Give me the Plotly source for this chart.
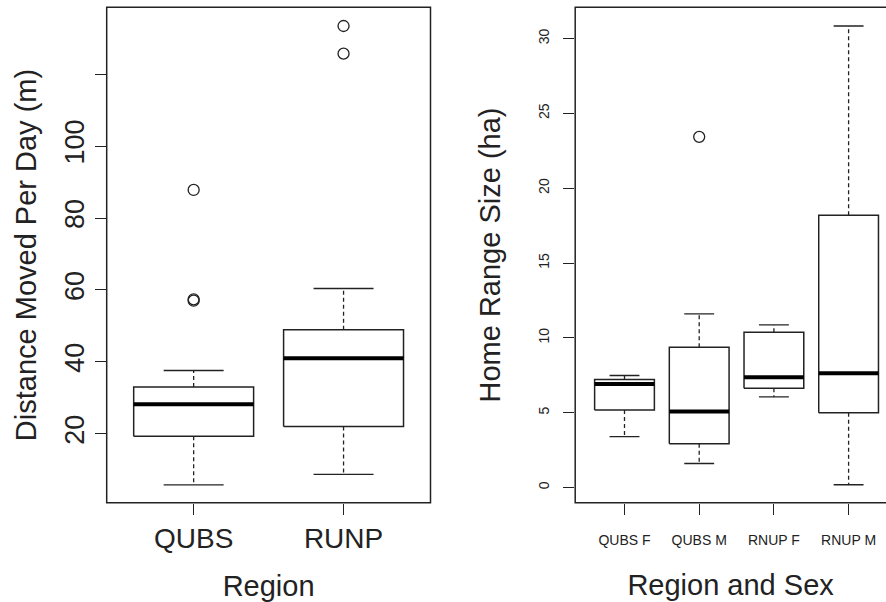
import plotly.graph_objects as go

# ---- Left panel data: distance moved per day (m) ----
dist_regions = ["QUBS", "RUNP"]
dist_lower = [5.8, 8.7]
dist_q1 = [19.3, 22.0]
dist_median = [28.2, 41.0]
dist_q3 = [33.0, 48.9]
dist_upper = [37.6, 60.4]
dist_outliers = [[57.0, 57.4, 87.8], [125.7, 133.4]]
dist_tickvals = [20, 40, 60, 80, 100, 120]
dist_ticktext = ["20", "40", "60", "80", "100", ""]

# ---- Right panel data: home range size (ha) ----
home_groups = ["QUBS F", "QUBS M", "RNUP F", "RNUP M"]
home_lower = [3.40, 1.60, 6.05, 0.18]
home_q1 = [5.17, 2.92, 6.63, 4.99]
home_median = [6.92, 5.07, 7.37, 7.64]
home_q3 = [7.21, 9.37, 10.37, 18.2]
home_upper = [7.48, 11.6, 10.86, 30.84]
home_outliers = [[], [23.43], [], []]
home_tickvals = [0, 5, 10, 15, 20, 25, 30]

LINE = "#222222"
FONT = "Liberation Sans, Arial, sans-serif"
BOXW = 0.4
CAPW = 0.2

fig = go.Figure()


def add_boxes(xa, ya, lower, q1, med, q3, upper, outl):
    for i in range(len(med)):
        c = i + 1
        # dashed whiskers
        fig.add_trace(go.Scatter(x=[c, c, None, c, c], y=[q3[i], upper[i], None, q1[i], lower[i]],
                                 mode="lines", line=dict(color=LINE, width=1.3, dash="4px,3px"),
                                 xaxis=xa, yaxis=ya, showlegend=False, hoverinfo="skip"))
        # caps
        fig.add_trace(go.Scatter(x=[c - CAPW, c + CAPW, None, c - CAPW, c + CAPW],
                                 y=[upper[i], upper[i], None, lower[i], lower[i]],
                                 mode="lines", line=dict(color=LINE, width=1.3),
                                 xaxis=xa, yaxis=ya, showlegend=False, hoverinfo="skip"))
        # box
        fig.add_trace(go.Scatter(x=[c - BOXW, c + BOXW, c + BOXW, c - BOXW, c - BOXW],
                                 y=[q1[i], q1[i], q3[i], q3[i], q1[i]],
                                 mode="lines", line=dict(color=LINE, width=1.5),
                                 fill="toself", fillcolor="white",
                                 xaxis=xa, yaxis=ya, showlegend=False, hoverinfo="skip"))
        # median
        fig.add_trace(go.Scatter(x=[c - BOXW, c + BOXW], y=[med[i], med[i]],
                                 mode="lines", line=dict(color="black", width=4),
                                 xaxis=xa, yaxis=ya, showlegend=False, hoverinfo="skip"))
        # outliers
        if outl[i]:
            fig.add_trace(go.Scatter(x=[c] * len(outl[i]), y=outl[i], mode="markers",
                                     marker=dict(symbol="circle-open", size=11,
                                                 color=LINE, line=dict(width=1.3, color=LINE)),
                                     xaxis=xa, yaxis=ya, showlegend=False, hoverinfo="skip"))


add_boxes("x", "y", dist_lower, dist_q1, dist_median, dist_q3, dist_upper, dist_outliers)
add_boxes("x2", "y2", home_lower, home_q1, home_median, home_q3, home_upper, home_outliers)

YDOM = [(602 - 502.7) / 602, (602 - 7.3) / 602]

axis_common = dict(showgrid=False, zeroline=False, showline=False, ticks="outside",
                   ticklen=11, tickwidth=1.3, tickcolor=LINE, color="#222222")

fig.update_layout(
    width=886, height=602,
    margin=dict(l=0, r=0, t=0, b=0),
    paper_bgcolor="white", plot_bgcolor="white",
    font=dict(family=FONT, color="#222222"),
    xaxis=dict(domain=[106.7 / 886, 430.5 / 886], range=[0.42, 2.58],
               tickvals=[1, 2], ticktext=dist_regions, tickfont=dict(size=28),
               title=dict(text="Region", font=dict(size=29), standoff=23), **axis_common),
    yaxis=dict(domain=YDOM, range=[0.83, 138.6], tickvals=dist_tickvals, ticktext=dist_ticktext,
               tickangle=-90, tickfont=dict(size=27),
               title=dict(text="Distance Moved Per Day (m)", font=dict(size=29), standoff=14),
               **axis_common),
    xaxis2=dict(domain=[575.2 / 886, 1.0], range=[0.34, 0.34 + 310.8 / 74.7],
                tickvals=[1, 2, 3, 4], ticktext=home_groups, tickfont=dict(size=14),
                ticklabelstandoff=13,
                title=dict(text="Region and Sex", font=dict(size=29), standoff=28),
                anchor="y2", **axis_common),
    yaxis2=dict(domain=YDOM, range=[-1.02, 32.09], tickvals=home_tickvals,
                tickangle=-90, tickfont=dict(size=14), ticklabelstandoff=9,
                title=dict(text="Home Range Size (ha)", font=dict(size=29), standoff=26),
                anchor="x2", **axis_common),
    shapes=[
        dict(type="rect", xref="x domain", yref="y domain", x0=0, x1=1, y0=0, y1=1,
             line=dict(color=LINE, width=1.5), layer="above"),
        dict(type="rect", xref="x2 domain", yref="y2 domain", x0=0, x1=1.1, y0=0, y1=1,
             line=dict(color=LINE, width=1.5), layer="above"),
    ],
)

fig.write_html("out.html")
